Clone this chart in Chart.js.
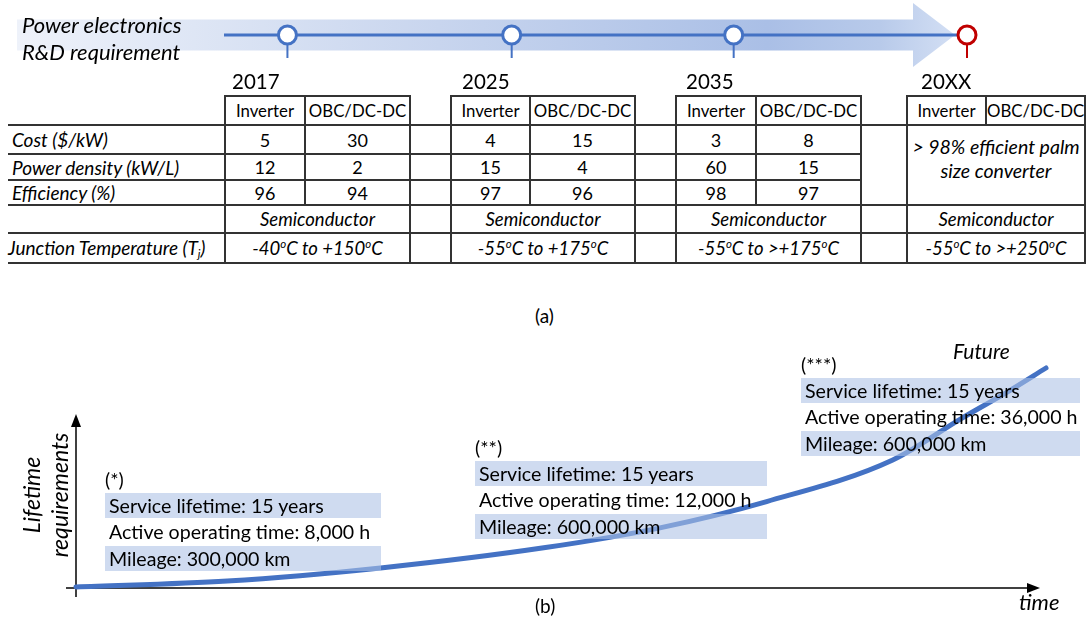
<!DOCTYPE html>
<html>
<head>
<meta charset="utf-8">
<title>Power electronics R&amp;D requirement</title>
<script src="https://cdn.jsdelivr.net/npm/chart.js@4.4.1/dist/chart.umd.min.js"></script>
<style>
  body { margin: 0; background: #fff; }
  #page { position: relative; width: 1091px; height: 625px; overflow: hidden; font-family: Lato, "Open Sans", sans-serif; color: #000; }
  canvas { position: absolute; left: 0; }
  #timelineChart { top: 0; }
  #lifetimeChart { top: 330px; }
  .txt { position: absolute; white-space: nowrap; }
  .it { font-style: italic; }
  #title { left: 22px; top: 11px; font-size: 22px; line-height: 27px; }
  .year { font-size: 20.5px; top: 69px; line-height: 24px; }
  #specs { position: absolute; left: 8px; top: 95px; border-collapse: collapse; table-layout: fixed; width: 1077px; }
  #specs td { padding: 0; text-align: center; vertical-align: middle; font-size: 18px; white-space: nowrap; overflow: visible; }
  #specs td.box { border: 2px solid #333; }
  #specs td.bb { border-bottom: 2px solid #333; }
  #specs td.tb { border-top: 2px solid #333; border-bottom: 2px solid #333; }
  #specs td.head { font-size: 16.8px; }
  #specs td.it { font-size: 18.5px; }
  #specs td.lbl { text-align: left; font-style: italic; padding-left: 4px; font-size: 19px; }
  #specs td.note { vertical-align: top; padding-top: 9px; line-height: 24px; font-style: italic; font-size: 19.5px; }
  sup { font-size: 0.62em; vertical-align: 0.6em; }
  sub { font-size: 0.62em; vertical-align: -0.25em; }
  .stage { position: absolute; font-size: 19.6px; white-space: nowrap; }
  .stage .tag { height: 27px; line-height: 27px; margin-top: -27px; }
  .stage .band { height: 25px; line-height: 25px; padding-left: 4px; background: rgba(172, 193, 230, 0.58); }
  .stage .plain { height: 28px; line-height: 28px; padding-left: 4px; }
  #yTitle { left: -37px; top: 467px; width: 164px; height: 56px; line-height: 28px; font-size: 23px; text-align: center; transform: rotate(-90deg); }
</style>
</head>
<body>
<div id="page">
  <canvas id="timelineChart" width="1091" height="70"></canvas>
  <canvas id="lifetimeChart" width="1091" height="295"></canvas>
  <div id="title" class="txt it">Power electronics<br>R&amp;D requirement</div>
  <table id="specs"></table>
  <div class="txt" style="left:535px; top:304px; font-size:19px;">(a)</div>
  <div id="yTitle" class="txt it">Lifetime<br>requirements</div>
  <div class="txt it" style="left:953px; top:338px; font-size:21px;">Future</div>
  <div class="txt it" style="left:1019px; top:588px; font-size:22px;">time</div>
  <div class="txt" style="left:535px; top:594px; font-size:19px;">(b)</div>
</div>
<script>
// timeline milestones
const years = ["2017", "2025", "2035", "20XX"];
const milestonePos = [0, 0.99, 1.97, 3];
const components = ["Inverter", "OBC/DC-DC"];

// table values per milestone (2017, 2025, 2035)
const costInverter = [5, 4, 3];
const costObc = [30, 15, 8];
const densityInverter = [12, 15, 60];
const densityObc = [2, 4, 15];
const effInverter = [96, 97, 98];
const effObc = [94, 96, 97];
const futureNote = ["> 98% efficient palm", "size converter"];
const tjMin = ["-40", "-55", "-55", "-55"];
const tjMax = ["+150", "+175", ">+175", ">+250"];

// lifetime stages
const stages = ["(*)", "(**)", "(***)"];
const serviceLife = [15, 15, 15];
const operatingHours = ["8,000", "12,000", "36,000"];
const mileage = ["300,000", "600,000", "600,000"];

// lifetime curve (arbitrary units)
const curveTime = [0, 1.56, 3.14, 4.84, 6.02, 7.12, 8.42, 9.13, 9.6, 10];
const curveLifetime = [0, 0.27, 0.87, 1.8, 2.7, 3.9, 5.8, 7.7, 8.9, 10];

// layout
const yearLabelLeft = [232, 462, 686, 921];
const colW = [217, 80, 105, 41, 79, 105, 41, 80, 105, 46, 79, 99];
const rowH = [29, 29, 26, 25, 28, 30];
const boxLeft = [105, 475, 801];
const boxWidth = [276, 292, 279];
const boxTop = [493, 461, 378];

const blue = "#4472C4";
const red = "#C00000";
const page = document.getElementById("page");

// year labels
years.forEach((y, i) => {
  const d = document.createElement("div");
  d.className = "txt year";
  d.style.left = yearLabelLeft[i] + "px";
  d.textContent = y;
  page.appendChild(d);
});

// table
const metricRows = [
  { label: "Cost ($/kW)", a: costInverter, b: costObc },
  { label: "Power density (kW/L)", a: densityInverter, b: densityObc },
  { label: "Efficiency (%)", a: effInverter, b: effObc },
];
let html = "<colgroup>" + colW.map((w) => `<col style="width:${w}px">`).join("") + "</colgroup>";
html += `<tr style="height:${rowH[0]}px"><td class="bb"></td>`;
years.forEach((y, b) => {
  html += `<td class="box head">${components[0]}</td><td class="box head">${components[1]}</td>`;
  if (b < years.length - 1) html += `<td class="bb"></td>`;
});
html += "</tr>";
metricRows.forEach((m, r) => {
  html += `<tr style="height:${rowH[r + 1]}px"><td class="lbl tb">${m.label}</td>`;
  for (let b = 0; b < m.a.length; b++) {
    html += `<td class="box">${m.a[b]}</td><td class="box">${m.b[b]}</td>`;
    if (b < m.a.length - 1) html += `<td class="tb"></td>`;
    else if (r === 0) html += `<td class="tb" rowspan="3"></td><td class="box note" rowspan="3" colspan="2">${futureNote.join("<br>")}</td>`;
  }
  html += "</tr>";
});
html += `<tr style="height:${rowH[4]}px"><td class="tb"></td>`;
years.forEach((y, b) => {
  html += `<td class="box it" colspan="2">Semiconductor</td>`;
  if (b < years.length - 1) html += `<td class="tb"></td>`;
});
html += "</tr>";
html += `<tr style="height:${rowH[5]}px"><td class="lbl tb" style="padding-left:0">Junction Temperature (T<sub>j</sub>)</td>`;
years.forEach((y, b) => {
  html += `<td class="box it" colspan="2">${tjMin[b]}<sup>o</sup>C to ${tjMax[b]}<sup>o</sup>C</td>`;
  if (b < years.length - 1) html += `<td class="tb"></td>`;
});
html += "</tr>";
document.getElementById("specs").innerHTML = html;

// lifetime stage boxes
stages.forEach((s, i) => {
  const box = document.createElement("div");
  box.className = "stage";
  box.style.left = boxLeft[i] + "px";
  box.style.top = boxTop[i] + "px";
  box.style.width = boxWidth[i] + "px";
  box.innerHTML =
    `<div class="tag">${s}</div>` +
    `<div class="band">Service lifetime: ${serviceLife[i]} years</div>` +
    `<div class="plain">Active operating time: ${operatingHours[i]} h</div>` +
    `<div class="band">Mileage: ${mileage[i]} km</div>`;
  page.appendChild(box);
});

Chart.defaults.font.family = "Lato, sans-serif";

const pointColors = years.map((y) => (y === "20XX" ? red : blue));

// arrow band, line and stems behind the milestone circles
const timelineDecor = {
  id: "timelineDecor",
  beforeDatasetsDraw(chart) {
    const { ctx, chartArea, scales } = chart;
    const y0 = scales.y.getPixelForValue(0);
    const pts = chart.getDatasetMeta(0).data;
    const last = pts[pts.length - 1];
    const bandLeft = 17;
    const headStart = last.x - 54;
    const tip = last.x - 12;
    ctx.save();
    const grad = ctx.createLinearGradient(bandLeft, 0, tip, 0);
    grad.addColorStop(0, "#EEF2FA");
    grad.addColorStop(0.45, "#C8D5EE");
    grad.addColorStop(0.8, "#AABFE6");
    grad.addColorStop(0.92, "#B8CAEA");
    grad.addColorStop(1, "#D3DFF4");
    ctx.fillStyle = grad;
    ctx.beginPath();
    ctx.moveTo(bandLeft, y0 - 15.5);
    ctx.lineTo(headStart, y0 - 15.5);
    ctx.lineTo(headStart, y0 - 32);
    ctx.lineTo(tip, y0);
    ctx.lineTo(headStart, y0 + 32);
    ctx.lineTo(headStart, y0 + 15.5);
    ctx.lineTo(bandLeft, y0 + 15.5);
    ctx.closePath();
    ctx.fill();

    ctx.lineWidth = 2;
    pts.forEach((p, i) => {
      ctx.strokeStyle = pointColors[i];
      ctx.beginPath();
      ctx.moveTo(p.x, p.y);
      ctx.lineTo(p.x, chartArea.bottom);
      ctx.stroke();
    });

    ctx.strokeStyle = blue;
    ctx.lineWidth = 3;
    ctx.beginPath();
    ctx.moveTo(chartArea.left, y0);
    ctx.lineTo(last.x, y0);
    ctx.stroke();
    ctx.restore();
  },
};

new Chart(document.getElementById("timelineChart").getContext("2d"), {
  type: "scatter",
  data: {
    datasets: [
      {
        data: milestonePos.map((x) => ({ x: x, y: 0 })),
        pointRadius: 9,
        pointBorderWidth: 3,
        pointBackgroundColor: "#fff",
        pointBorderColor: pointColors,
        clip: false,
      },
    ],
  },
  options: {
    responsive: false,
    animation: false,
    layout: { padding: { left: 224, right: 124, top: 5, bottom: 1 } },
    scales: {
      x: { type: "linear", min: -0.28, max: 3, display: false },
      y: { min: -1, max: 1, display: false },
    },
    plugins: { legend: { display: false }, tooltip: { enabled: false } },
  },
  plugins: [timelineDecor],
});

// axes with arrow heads
const axesArrows = {
  id: "axesArrows",
  beforeDatasetsDraw(chart) {
    const { ctx, chartArea: a } = chart;
    const yTop = a.top + 46;
    const xEnd = a.right - 6;
    const y0 = a.bottom + 1;
    ctx.save();
    ctx.strokeStyle = "#000";
    ctx.fillStyle = "#000";
    ctx.lineWidth = 1.5;
    ctx.beginPath();
    ctx.moveTo(a.left, a.bottom + 10);
    ctx.lineTo(a.left, yTop + 10);
    ctx.stroke();
    ctx.beginPath();
    ctx.moveTo(a.left, yTop);
    ctx.lineTo(a.left - 5, yTop + 13);
    ctx.lineTo(a.left + 5, yTop + 13);
    ctx.closePath();
    ctx.fill();
    ctx.beginPath();
    ctx.moveTo(a.left - 10, y0);
    ctx.lineTo(xEnd - 10, y0);
    ctx.stroke();
    ctx.beginPath();
    ctx.moveTo(xEnd, y0);
    ctx.lineTo(xEnd - 13, y0 - 5);
    ctx.lineTo(xEnd - 13, y0 + 5);
    ctx.closePath();
    ctx.fill();
    ctx.restore();
  },
};

new Chart(document.getElementById("lifetimeChart").getContext("2d"), {
  type: "line",
  data: {
    datasets: [
      {
        data: curveTime.map((t, i) => ({ x: t, y: curveLifetime[i] })),
        borderColor: blue,
        borderWidth: 5,
        borderCapStyle: "round",
        pointRadius: 0,
        cubicInterpolationMode: "monotone",
        fill: false,
        clip: false,
      },
    ],
  },
  options: {
    responsive: false,
    animation: false,
    layout: { padding: { left: 76, right: 45, top: 38, bottom: 38 } },
    scales: {
      x: { type: "linear", min: 0, max: 10, display: false },
      y: { min: 0, max: 10, display: false },
    },
    plugins: { legend: { display: false }, tooltip: { enabled: false } },
  },
  plugins: [axesArrows],
});
</script>
</body>
</html>
